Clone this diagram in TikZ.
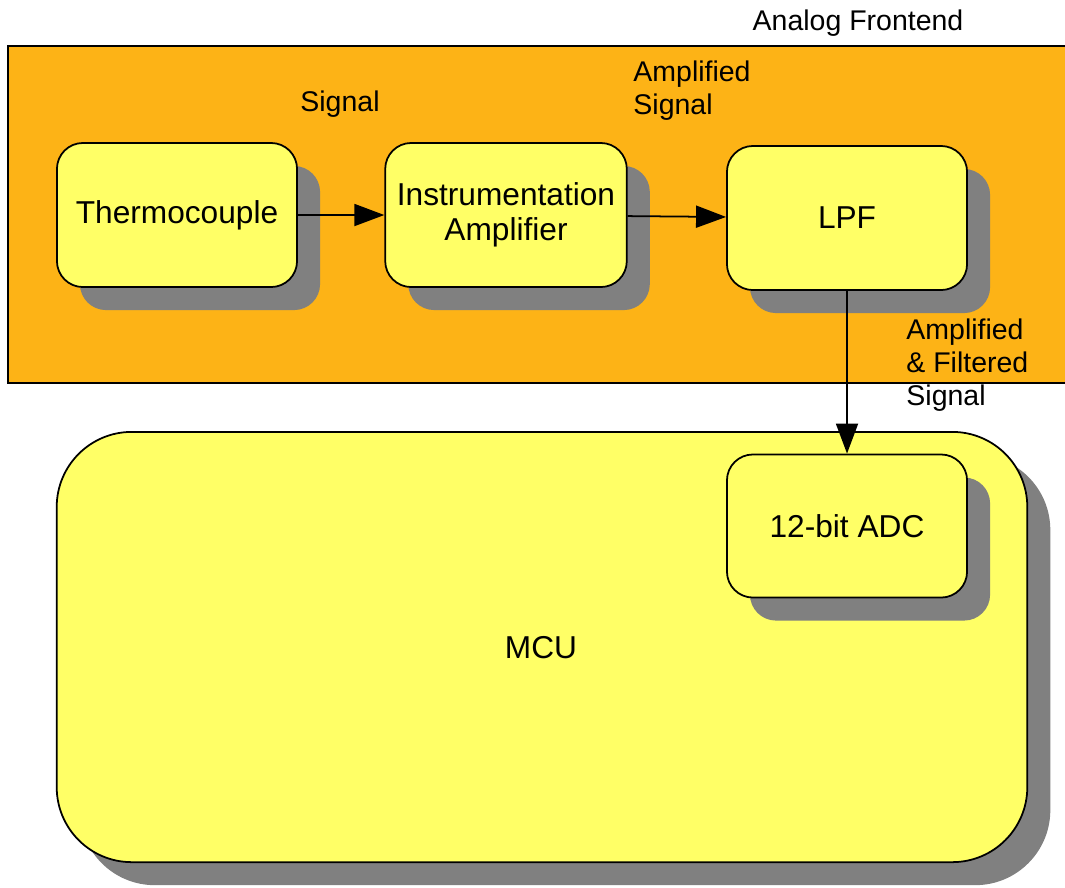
\documentclass[tikz,border=0pt]{standalone}
\usepackage{fontspec}
\setmainfont{Liberation Sans}
\usetikzlibrary{arrows.meta, shadows}
\definecolor{frontorange}{HTML}{FDB316}
\definecolor{blockyellow}{HTML}{FFFF66}
\definecolor{shadowgray}{HTML}{808080}

\begin{document}
\begin{tikzpicture}[
    x=0.01cm, y=-0.01cm,
    >={Triangle[length=3mm, width=2.2mm]},
    every node/.style={font=\fontsize{9}{10}\selectfont},
    block/.style={rectangle, rounded corners=#1, draw=black, line width=0.5pt,
                  fill=blockyellow, minimum width=2.4cm, minimum height=1.44cm,
                  align=center,
                  drop shadow={shadow xshift=0.23cm, shadow yshift=-0.23cm,
                               fill=shadowgray, opacity=1, draw=none}},
    block/.default=2.6mm,
    sigtext/.style={font=\fontsize{8.1}{9.4}\selectfont, align=left},
    link/.style={->, line width=0.5pt},
  ]
  \useasboundingbox (0,0) rectangle (1065,887);

  % Analog frontend area
  \fill[frontorange, draw=black, line width=0.5pt] (8,46) rectangle (1075,383);
  \node[sigtext] (fetitle) at (858,23) {Analog Frontend};

  % Signal chain
  \node[block] (thermo) at (177,215) {Thermocouple};
  \node[block] (instamp) at (506,215) {Instrumentation\\Amplifier};
  \node[block] (lpf) at (847,218) {LPF};
  \draw[link] (thermo) -- (instamp);
  \draw[link] (instamp) -- (lpf);
  \node[sigtext] (sig) at (340,104) {Signal};
  \node[sigtext, anchor=west] (ampsig) at (621,91) {Amplified\\Signal};

  % MCU
  \node[block=7.5mm, minimum width=9.7cm, minimum height=4.3cm] (mcu) at (542,647) {};
  \node (mcutext) at (541,648) {MCU};
  \node[block, minimum height=1.43cm] (adc) at (847,526) {12-bit ADC};
  \draw[link] (lpf) -- (adc);
  \node[sigtext, anchor=west] (filtsig) at (894,365) {Amplified\\\& Filtered\\Signal};
\end{tikzpicture}
\end{document}
